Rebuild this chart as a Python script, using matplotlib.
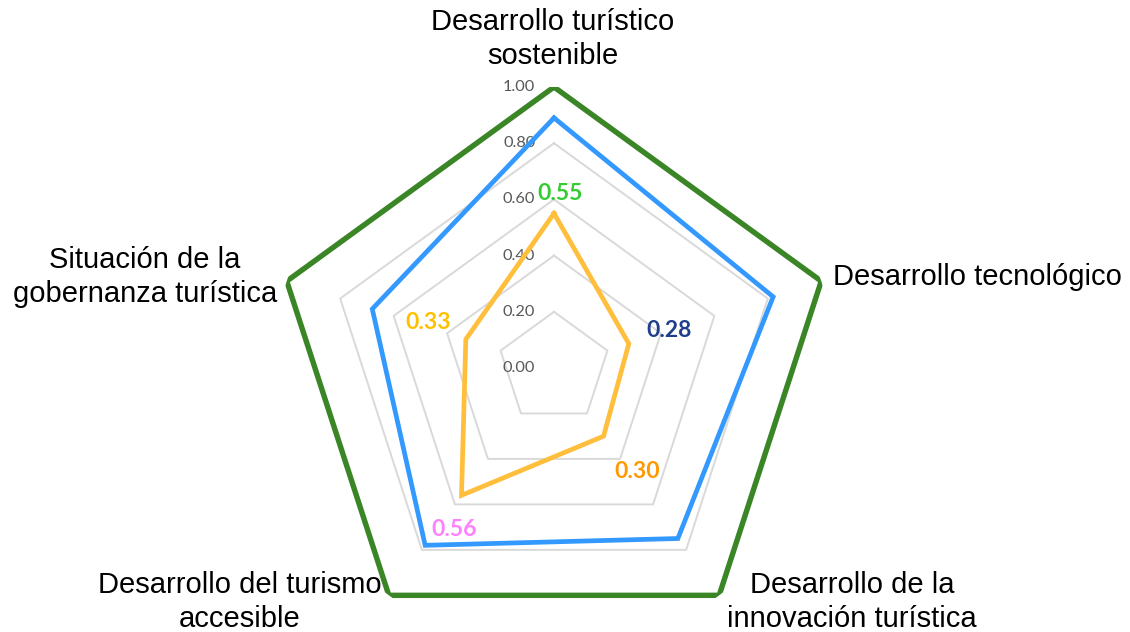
import numpy as np
import matplotlib
matplotlib.use("Agg")
import matplotlib.pyplot as plt

categories = ["Desarrollo turístico\nsostenible", "Desarrollo tecnológico",
              "Desarrollo de la\ninnovación turística", "Desarrollo del turismo\naccesible",
              "Situación de la\ngobernanza turística"]
series_green = [1.00, 1.00, 1.00, 1.00, 1.00]
series_blue = [0.89, 0.82, 0.75, 0.78, 0.68]
series_orange = [0.55, 0.28, 0.30, 0.56, 0.33]
label_texts = ["0.55", "0.28", "0.30", "0.56", "0.33"]
label_colors = ["#33CC33", "#1F3F8C", "#FF9900", "#FF80FF", "#FFC000"]
grid_levels = [0.2, 0.4, 0.6, 0.8, 1.0]
tick_values = [0.0, 0.2, 0.4, 0.6, 0.8, 1.0]

W, H = 1130, 632
fig = plt.figure(figsize=(W / 100, H / 100), dpi=100)
cx, cy, R = 554, 368, 281
ax = fig.add_axes([(cx - R) / W, (H - cy - R) / H, 2 * R / W, 2 * R / H], projection="polar")
ax.set_theta_offset(np.pi / 2)
ax.set_theta_direction(-1)
ax.set_ylim(0, 1)
ax.grid(False)
ax.spines["polar"].set_visible(False)
ax.set_xticks([])
ax.set_yticks([])
ax.patch.set_alpha(0)

n = len(categories)
theta = np.linspace(0, 2 * np.pi, n, endpoint=False)
th_c = np.append(theta, theta[0])

for lv in grid_levels:
    ax.plot(th_c, [lv] * (n + 1), color="#D9D9D9", lw=1.4, zorder=1)

def closed(v):
    return list(v) + [v[0]]

ax.plot(th_c, closed(series_green), color="#3A8526", lw=3.9, zorder=3, solid_joinstyle="miter")
ax.plot(th_c, closed(series_blue), color="#3399FF", lw=3.4, zorder=3, solid_joinstyle="miter")
ax.plot(th_c, closed(series_orange), color="#FFBF3C", lw=3.4, zorder=3, solid_joinstyle="miter")

for tv in tick_values:
    ax.annotate(f"{tv:.2f}", xy=(0, tv), xytext=(-13.5, 0), textcoords="offset points",
                ha="right", va="center", fontsize=11.8, color="#595959", family="Lato", zorder=2)

offsets = [(4.3, 14.4), (28.8, 9.4), (24.5, -25.2), (-5.0, -24.5), (-27.4, 12.2)]
for t, v, txt, col, off in zip(theta, series_orange, label_texts, label_colors, offsets):
    ax.annotate(txt, xy=(t, v), xytext=off, textcoords="offset points",
                ha="center", va="center", fontsize=16.5, fontweight="bold",
                color=col, family="Lato", zorder=4)

lab_pos = [(553, 39), (977, 277), (852, 602), (240, 602), (145, 277)]
for cat, (x, y) in zip(categories, lab_pos):
    fig.text(x / W, 1 - y / H, cat, ha="center", va="center", fontsize=21,
             family="Liberation Sans", color="black", linespacing=1.31, multialignment="center")

fig.savefig("out.png", dpi=100)
